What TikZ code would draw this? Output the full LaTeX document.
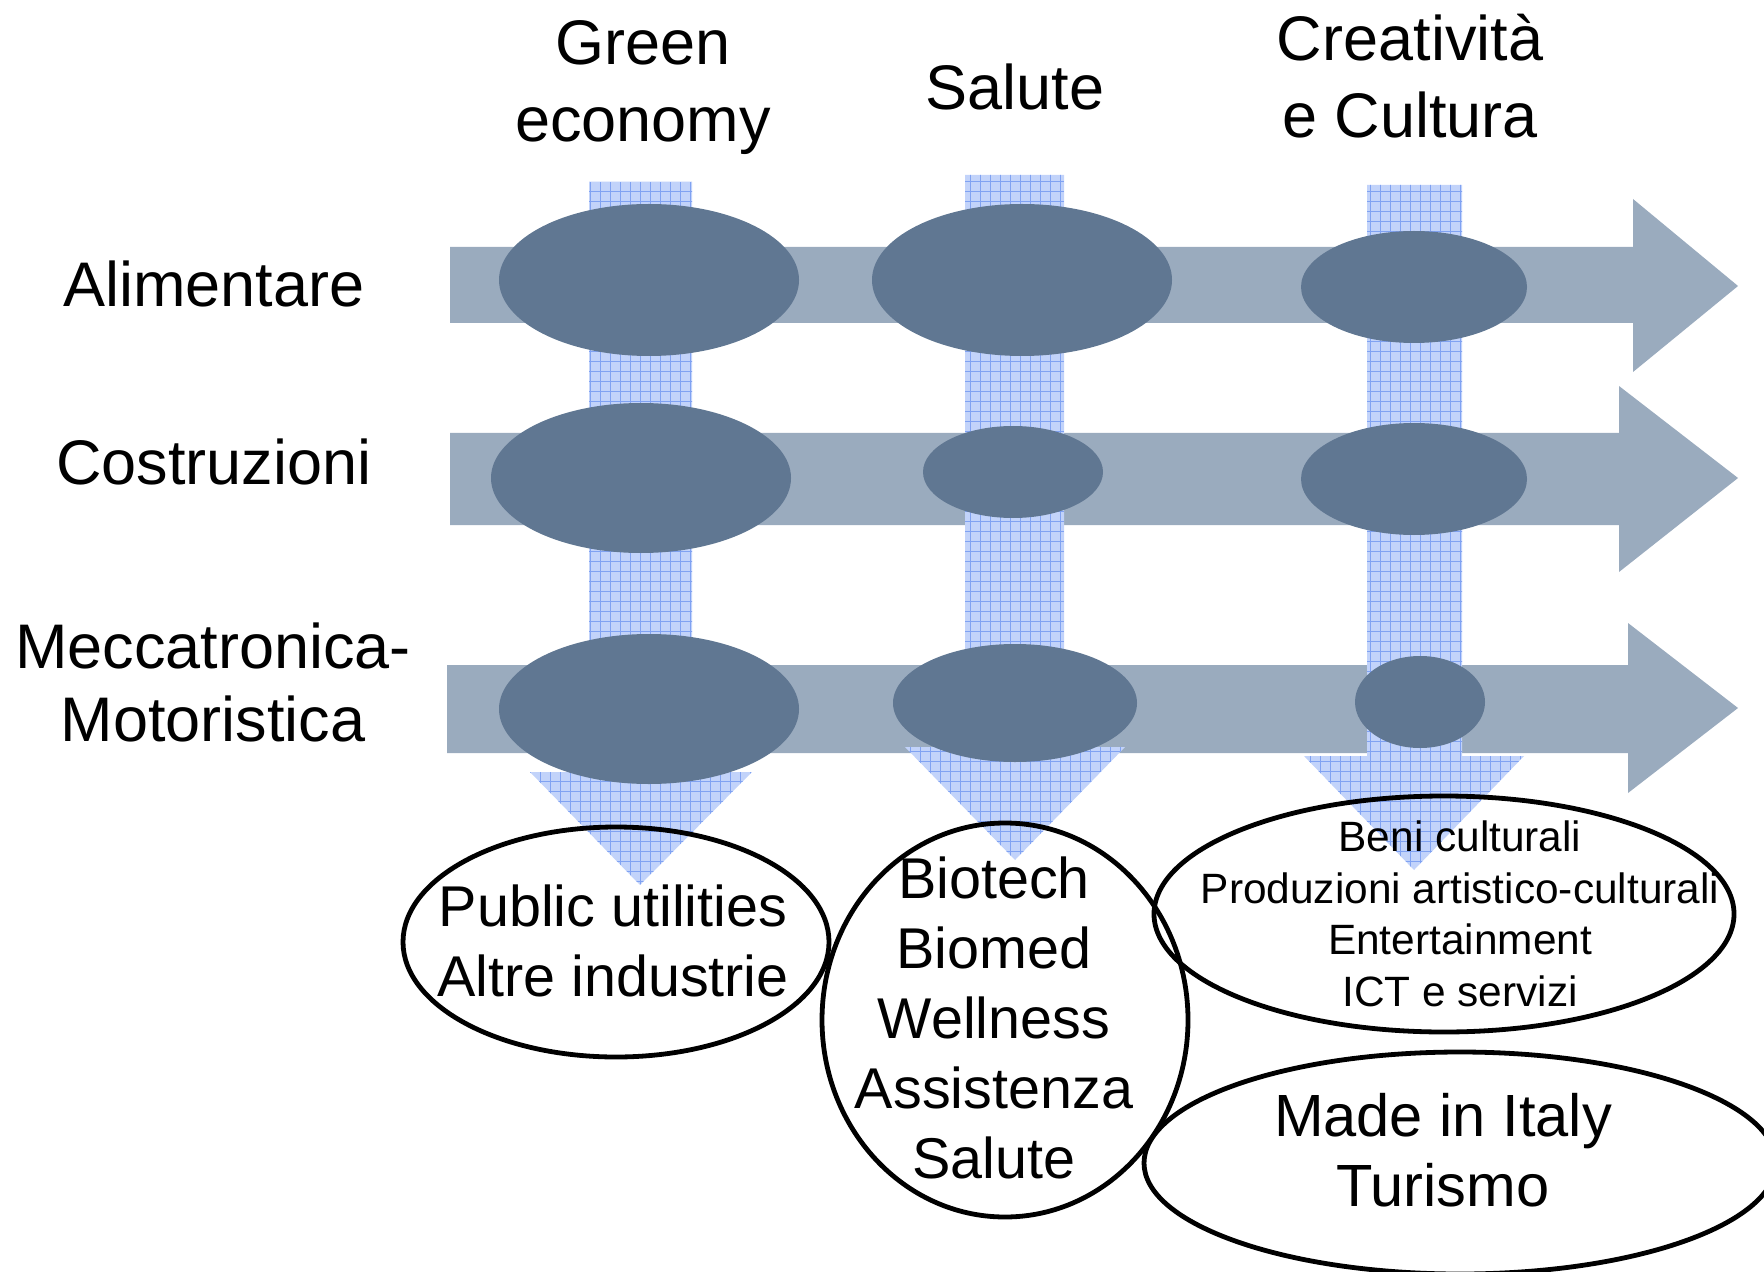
\documentclass[tikz,border=0pt]{standalone}
\usepackage{fontspec}
\setmainfont{Liberation Sans}
\usetikzlibrary{patterns.meta}

\definecolor{bandgray}{RGB}{154,171,190}
\definecolor{blobblue}{RGB}{96,119,146}
\definecolor{paleblue}{RGB}{194,211,250}
\definecolor{gridblue}{RGB}{128,162,242}

\tikzset{
	band/.style={fill=bandgray},
	downarrow/.style={fill=paleblue, postaction={pattern={Hatch[angle=0, distance=5pt, line width=0.5pt]}, pattern color=gridblue}},
	blob/.style={fill=blobblue},
	ring/.style={draw=black, line width=2.4pt},
	headfont/.style={font=\fontsize{31.5}{38.5}\selectfont, align=center, anchor=base},
	rowfont/.style={font=\fontsize{31.5}{36.5}\selectfont, align=center, anchor=base},
	inner/.style={font=\fontsize{28.75}{35}\selectfont, align=center, anchor=base},
	small/.style={font=\fontsize{21.2}{25.7}\selectfont, align=center, anchor=base}
}

\begin{document}
\begin{tikzpicture}[x=0.5pt, y=-0.5pt]
			%%%%% START %%%%%
			\useasboundingbox (0,0) rectangle (1764,1272);
			\clip (0,0) rectangle (1764,1272);
			
			% sector arrows
			\fill[band] (450,247) -- (1633,247) -- (1633,199) -- (1738,286) -- (1633,372) -- (1633,323) -- (450,323) -- cycle;
			\fill[band] (450,433) -- (1619,433) -- (1619,386) -- (1738,478) -- (1619,572) -- (1619,525) -- (450,525) -- cycle;
			\fill[band] (447,665) -- (1628,665) -- (1628,623) -- (1738,708) -- (1628,793) -- (1628,753) -- (447,753) -- cycle;
			
			% theme arrows
			\fill[downarrow] (589,182) -- (692,182) -- (692,772) -- (752,772) -- (640,885) -- (530,772) -- (589,772) -- cycle;
			\fill[downarrow] (965,175) -- (1064,175) -- (1064,747) -- (1125,747) -- (1015,860) -- (905,747) -- (965,747) -- cycle;
			\fill[downarrow] (1367,185) -- (1462,185) -- (1462,756) -- (1524,756) -- (1414,870) -- (1304,756) -- (1367,756) -- cycle;
			
			% crossings
			\fill[blob] (649,280) ellipse (150 and 76);
			\fill[blob] (1022,280) ellipse (150 and 76);
			\fill[blob] (1414,287) ellipse (113 and 56);
			
			\fill[blob] (641,478) ellipse (150 and 75);
			\fill[blob] (1013,472) ellipse (90 and 46);
			\fill[blob] (1414,479) ellipse (113 and 56);
			
			\fill[blob] (649,709) ellipse (150 and 75);
			\fill[blob] (1015,703) ellipse (122 and 59);
			\fill[blob] (1420,702) ellipse (65 and 46);
			
			% column titles (base = last line)
			\node[headfont] (green) at (643,142) {Green\\economy};
			\node[headfont] (salute) at (1015,110) {Salute};
			\node[headfont] (creativ) at (1410,138) {Creativit\`a\\e Cultura};
			
			% row titles
			\node[rowfont] (alim) at (214,307) {Alimentare};
			\node[rowfont] (costr) at (214,484) {Costruzioni};
			\node[rowfont] (mecca) at (213,741) {Meccatronica-\\Motoristica};
			
			% outcomes
			\draw[ring] (616,942) ellipse (213 and 115);
			\node[inner] (utilities) at (613,996) {Public utilities\\Altre industrie};
			
			\draw[ring] (1005,1020) ellipse (183 and 197);
			\node[inner] (biotech) at (994,1178) {Biotech\\Biomed\\Wellness\\Assistenza\\Salute};
			
			\draw[ring] (1444,914) ellipse (290 and 118);
			\node[small] (beni) at (1460,1006) {Beni culturali\\Produzioni artistico-culturali\\Entertainment\\ICT e servizi};
			
			\draw[ring] (1460,1163) ellipse (316 and 111);
			\node[inner, font=\fontsize{29.8}{35}\selectfont] (madein) at (1443,1206) {Made in Italy\\Turismo};
			%%%%% END %%%%%
\end{tikzpicture}
\end{document}
